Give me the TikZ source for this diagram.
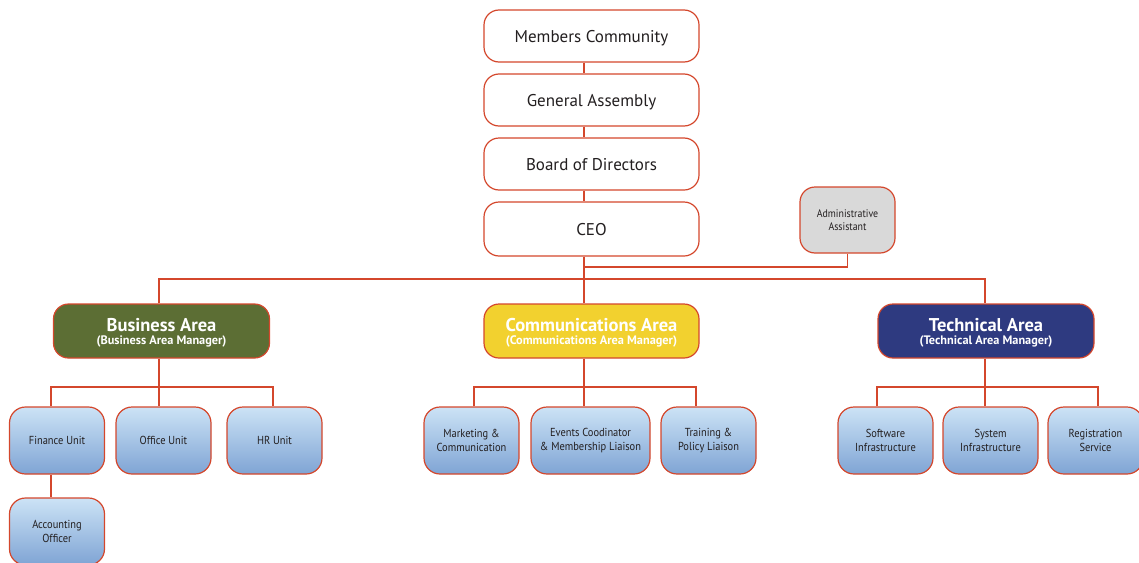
\documentclass[tikz,border=0pt]{standalone}
\usepackage{fontspec}
\setmainfont{PT Sans}
\newfontfamily\narrowfont[FakeStretch=0.9]{PT Sans}
\definecolor{edge}{HTML}{D4472C}
\definecolor{bagreen}{HTML}{5C6E34}
\definecolor{cayellow}{HTML}{F2D12F}
\definecolor{tanavy}{HTML}{2E3A80}
\definecolor{grayfill}{HTML}{D9D9D9}
\definecolor{bluetop}{HTML}{CCE3F6}
\definecolor{bluebot}{HTML}{7FA4D4}
\definecolor{txt}{HTML}{231F20}
\begin{document}
\begin{tikzpicture}[x=1pt,y=-1pt,
  box/.style={draw=edge,line width=1.2pt,rounded corners=15pt,inner sep=0pt,align=center},
  topbox/.style={box,fill=white,minimum width=215pt,minimum height=52pt,font=\fontsize{17}{19}\selectfont,text=txt,text depth=0pt},
  areabox/.style={box,minimum width=216pt,minimum height=54pt,text=white,font=\bfseries\fontsize{18.5}{15}\selectfont,text depth=0pt},
  unitbox/.style={box,rounded corners=16pt,top color=bluetop,bottom color=bluebot,minimum width=95pt,minimum height=67pt,font=\narrowfont\fontsize{11.6}{13.5}\selectfont,text=txt},
  link/.style={draw=edge,line width=1.2pt}]
\useasboundingbox (0,0) rectangle (1139,562);
% top chain
\node[topbox] (MC) at (591.5,36) {Members Community};
\node[topbox] (GA) at (591.5,100) {General Assembly};
\node[topbox] (BoD) at (591.5,164) {Board of Directors};
\node[topbox,minimum height=54pt] (CEO) at (591.5,229) {CEO};
\node[box,fill=grayfill,minimum width=95pt,minimum height=66pt,font=\narrowfont\fontsize{11}{13.5}\selectfont,text=txt] (Admin) at (847.5,220) {Administrative\\Assistant};
% areas
\node[areabox,fill=bagreen] (BA) at (161.5,331) {Business Area\\[-2pt]{\fontsize{12.3}{12}\selectfont(Business Area Manager)}};
\node[areabox,fill=cayellow,minimum width=215pt] (CA) at (591.5,331) {Communications Area\\[-2pt]{\fontsize{12.3}{12}\selectfont(Communications Area Manager)}};
\node[areabox,fill=tanavy] (TA) at (986,331) {Technical Area\\[-2pt]{\fontsize{12.3}{12}\selectfont(Technical Area Manager)}};
% units
\node[unitbox] (Finance) at (57,440.5) {Finance Unit};
\node[unitbox] (Office) at (163.5,440.5) {Office Unit};
\node[unitbox] (HR) at (274.5,440.5) {HR Unit};
\node[unitbox] (Accounting) at (57,531.5) {Accounting\\Officer};
\node[unitbox] (Marketing) at (471.5,440.5) {Marketing \&\\Communication};
\node[unitbox,minimum width=119pt] (Events) at (590.5,440.5) {Events Coodinator\\\& Membership Liaison};
\node[unitbox] (Training) at (708.5,440.5) {Training \&\\Policy Liaison};
\node[unitbox] (Software) at (885.5,440.5) {Software\\Infrastructure};
\node[unitbox] (System) at (990.5,440.5) {System\\Infrastructure};
\node[unitbox] (Registration) at (1095.5,440.5) {Registration\\Service};
% junction coordinates
\coordinate (trunk) at (584,279);
\coordinate (jAd) at (584,267);
\coordinate (jBA) at (159,279);
\coordinate (jTA) at (985,279);
\coordinate (bF) at (51,387);
\coordinate (bH) at (273,387);
\coordinate (cM) at (474,387);
\coordinate (cT) at (696,387);
\coordinate (tS) at (877,387);
\coordinate (tR) at (1098,387);
% connectors
\draw[link] (MC.south -| trunk) -- (GA.north -| trunk);
\draw[link] (GA.south -| trunk) -- (BoD.north -| trunk);
\draw[link] (BoD.south -| trunk) -- (CEO.north -| trunk);
\draw[link] (CEO.south -| trunk) -- (CA.north -| trunk);
\draw[link] (Admin.south) |- (jAd);
\draw[link] (BA.north -| jBA) -- (jBA) -- (jTA) -- (TA.north -| jTA);
\draw[link] (BA.south -| jBA) -- (Office.north -| jBA);
\draw[link] (Finance.north -| bF) -- (bF) -- (bH) -- (HR.north -| bH);
\draw[link] (Finance.south -| bF) -- (Accounting.north -| bF);
\draw[link] (CA.south -| trunk) -- (Events.north -| trunk);
\draw[link] (Marketing.north -| cM) -- (cM) -- (cT) -- (Training.north -| cT);
\draw[link] (TA.south -| jTA) -- (System.north -| jTA);
\draw[link] (Software.north -| tS) -- (tS) -- (tR) -- (Registration.north -| tR);
\end{tikzpicture}
\end{document}
